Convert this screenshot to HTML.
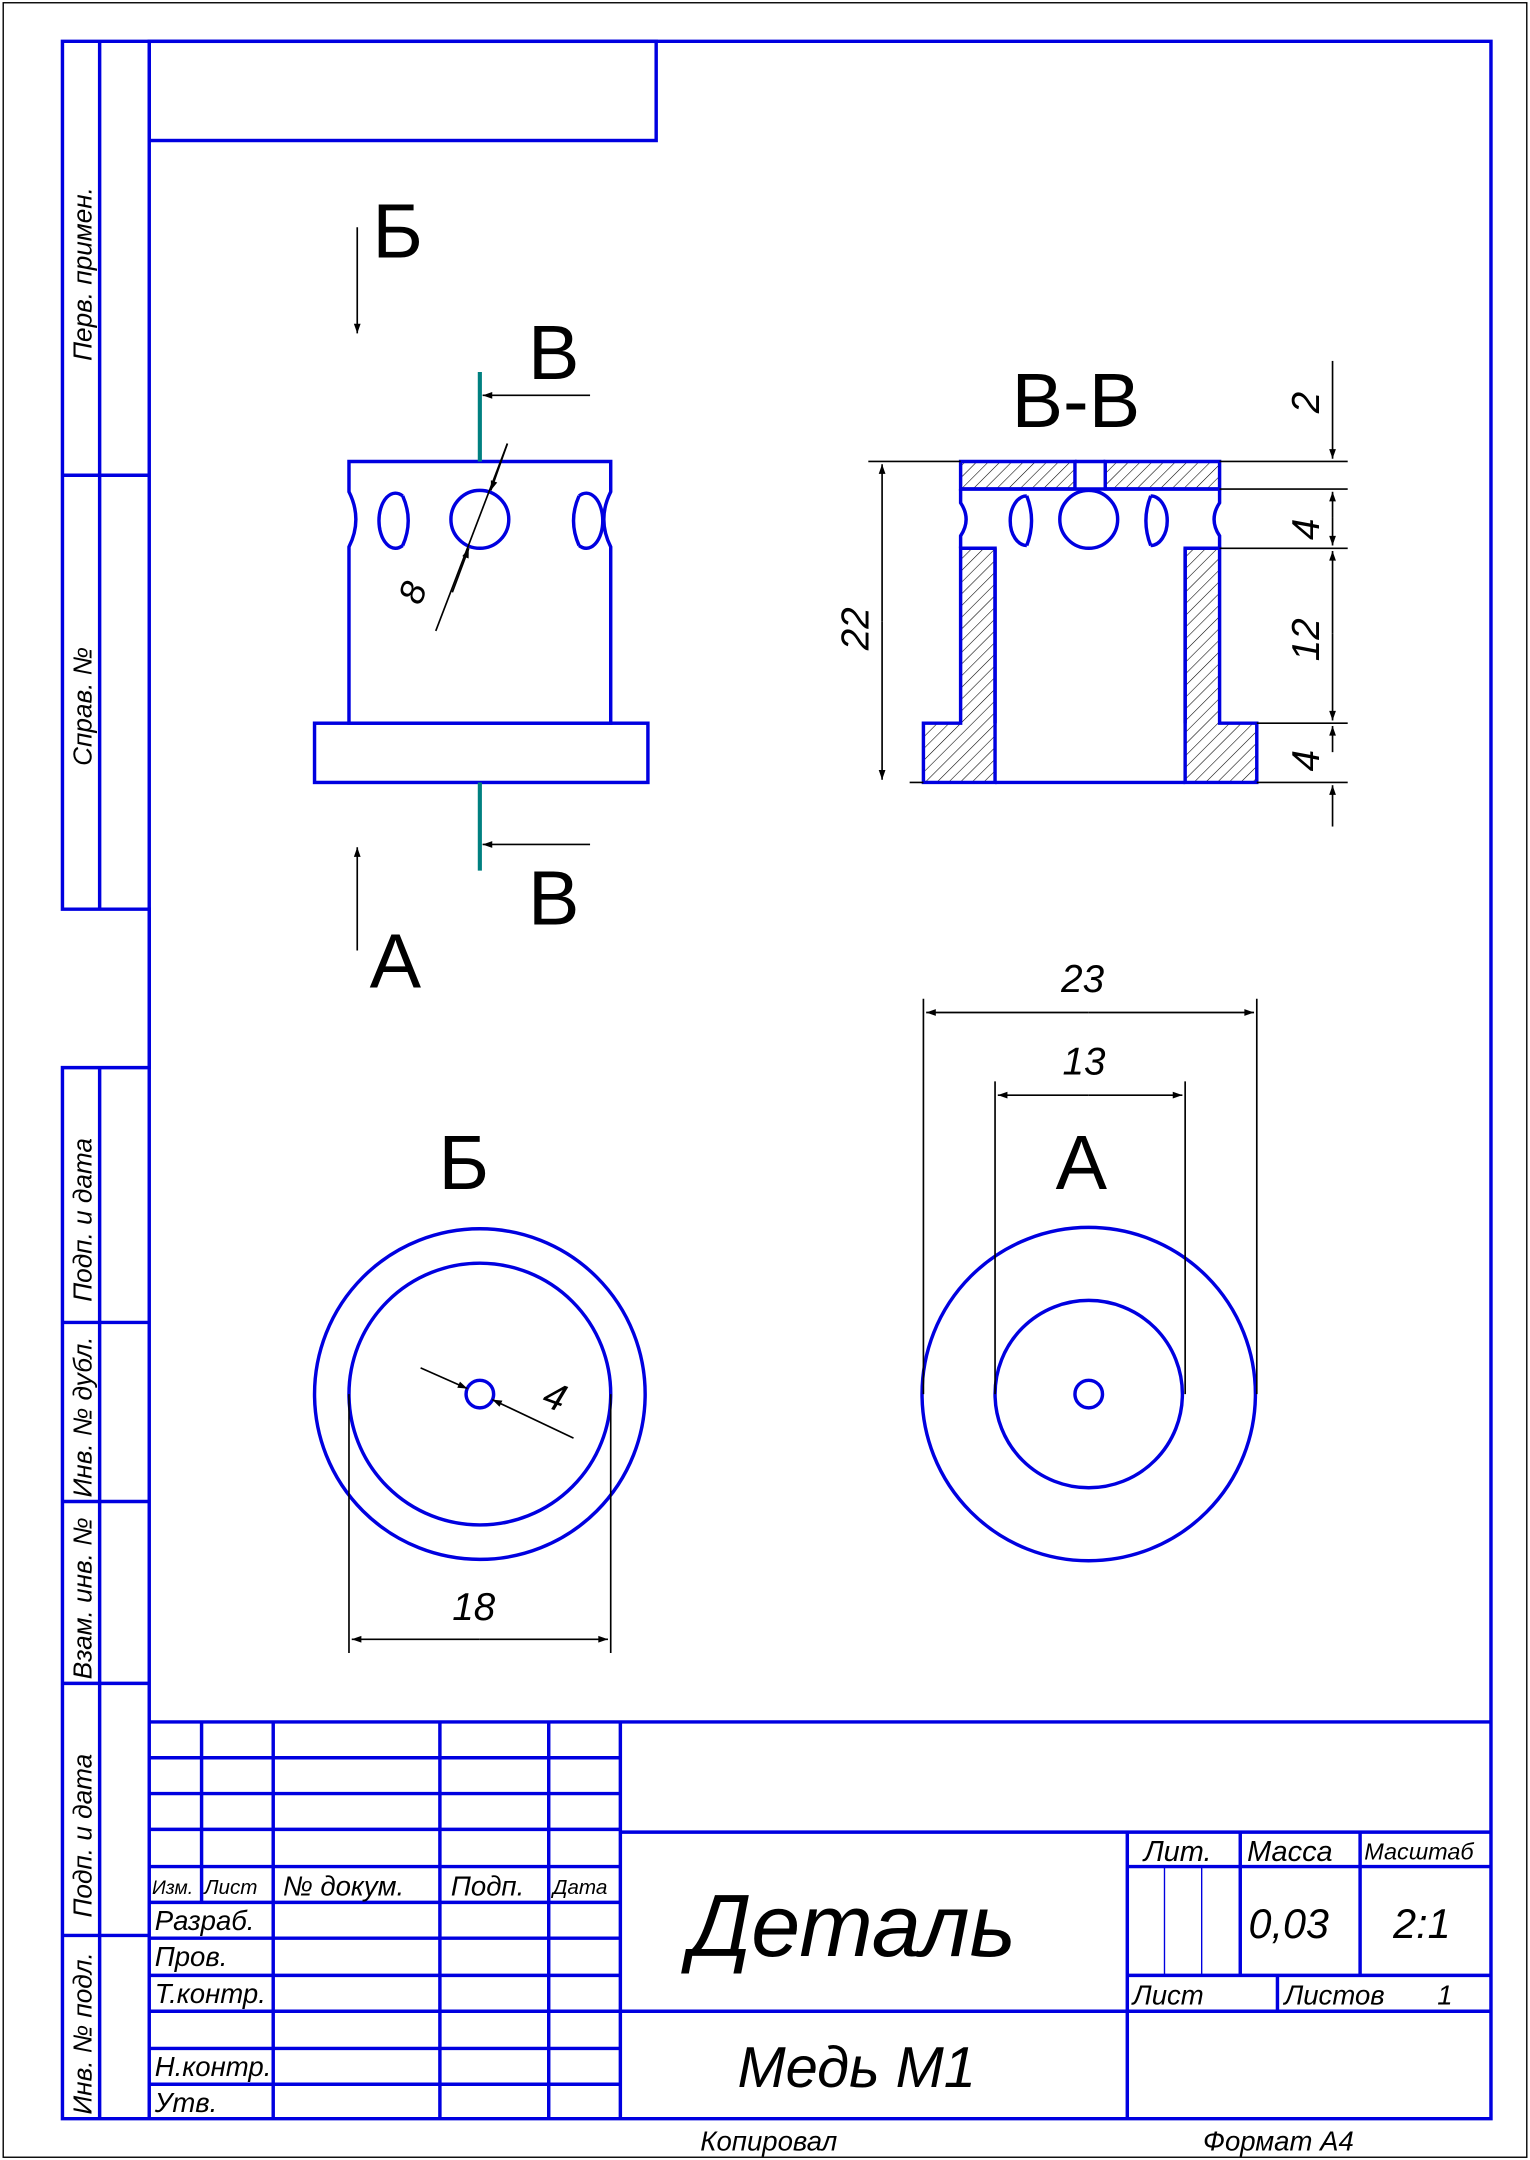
<!DOCTYPE html>
<html><head><meta charset="utf-8"><style>
html,body{margin:0;padding:0;background:#fff}
svg{display:block}
text{font-family:"Liberation Sans",sans-serif;fill:#000}
.i{font-style:italic}
</style></head><body>
<svg width="1530" height="2160" viewBox="0 0 1110 1568" xmlns="http://www.w3.org/2000/svg">
<defs>
<pattern id="h" width="6" height="6" patternUnits="userSpaceOnUse" patternTransform="rotate(45)">
<line x1="0" y1="0" x2="0" y2="6" stroke="#000" stroke-width="0.8"/></pattern>
<marker id="a" viewBox="0 0 10 10" refX="10" refY="5" markerWidth="16" markerHeight="7" markerUnits="userSpaceOnUse" orient="auto-start-reverse"><path d="M0,1.5 L10,5 L0,8.5z" fill="#000"/></marker>
</defs>
<rect x="2" y="2" width="1106" height="1564" fill="none" stroke="#000" stroke-width="1"/>
<g fill="none" stroke="#0000e0" stroke-width="2.5">
<path d="M45 30H1082V1538H45V775H108V660H45Z"/>
<line x1="108" y1="30" x2="108" y2="1538"/>
<rect x="108" y="30" width="368" height="72"/>
<path d="M45 345H108M45 960H108M45 1090H108M45 1222H108M45 1405H108M72 30V660M72 775V1538"/>
<path d="M108 1250H1082M108 1276H450M108 1302H450M108 1328H450M108 1355H450M108 1381H450M108 1407H450M108 1434H450M108 1460H450M108 1487H450M108 1513H450"/>
<path d="M146 1250V1381M198 1250V1538M319 1250V1538M398 1250V1538M450 1250V1538"/>
<path d="M450 1330H1082M450 1460H1082M818 1330V1538M900 1330V1434M987 1330V1434M818 1355H1082M818 1434H1082M927 1434V1460"/>
<path d="M845 1355V1434M872 1355V1434" stroke-width="1"/>
</g>
<g class="i" font-size="19">
<text transform="translate(66,262) rotate(-90)">Перв. примен.</text>
<text transform="translate(66,556) rotate(-90)">Справ. №</text>
<text transform="translate(66,945) rotate(-90)">Подп. и дата</text>
<text transform="translate(66,1087) rotate(-90)">Инв. № дубл.</text>
<text transform="translate(66,1219) rotate(-90)">Взам. инв. №</text>
<text transform="translate(66,1392) rotate(-90)">Подп. и дата</text>
<text transform="translate(66,1535) rotate(-90)">Инв. № подл.</text>
</g>
<g class="i" font-size="18">
<text x="110" y="1375" font-size="14">Изм.</text><text x="148" y="1375" font-size="15">Лист</text>
<text x="205" y="1376" font-size="20">№ докум.</text><text x="327" y="1376" font-size="20">Подп.</text><text x="401" y="1375" font-size="15">Дата</text>
<text x="112" y="1401" font-size="20">Разраб.</text><text x="112" y="1427" font-size="20">Пров.</text>
<text x="112" y="1454" font-size="20">Т.контр.</text><text x="112" y="1507" font-size="20">Н.контр.</text>
<text x="112" y="1533" font-size="20">Утв.</text>
<text x="830" y="1351" font-size="21">Лит.</text><text x="905" y="1351" font-size="21">Масса</text><text x="990" y="1350" font-size="17">Масштаб</text>
<text x="906" y="1407" font-size="30">0,03</text><text x="1011" y="1407" font-size="30">2:1</text>
<text x="822" y="1455" font-size="20">Лист</text><text x="932" y="1455" font-size="20">Листов</text><text x="1043" y="1455" font-size="20">1</text>
<text x="500" y="1420" font-size="64">Деталь</text>
<text x="535" y="1515" font-size="42">Медь М1</text>
<text x="508" y="1561" font-size="20">Копировал</text><text x="873" y="1561" font-size="20">Формат  А4</text>
</g>
<g fill="none" stroke="#0000e0" stroke-width="2.5">
<path d="M253 335H443V357Q433 377 443 397V525H253V397Q263 377 253 357Z"/>
<rect x="228" y="525" width="242" height="43"/>
<circle cx="348" cy="377" r="21"/>
<path d="M292 360A12 20 0 1 0 292 396M292 360Q300 378 292 396"/>
<path d="M412 360A12 20 0 1 1 412 396M412 360Q404 378 412 396" transform="translate(8,0)"/>
</g>
<path d="M348 270V335M348 568V632" stroke="#008080" stroke-width="3"/>
<g stroke="#000" stroke-width="1.2" fill="none">
<line x1="428" y1="287" x2="350" y2="287" marker-end="url(#a)"/>
<line x1="428" y1="613" x2="350" y2="613" marker-end="url(#a)"/>
<line x1="259" y1="165" x2="259" y2="242" marker-end="url(#a)"/>
<line x1="259" y1="690" x2="259" y2="615" marker-end="url(#a)"/>
<line x1="368" y1="322" x2="316" y2="458"/>
<line x1="368" y1="322" x2="356" y2="356" marker-end="url(#a)"/>
<line x1="328" y1="430" x2="340" y2="398" marker-end="url(#a)"/>
</g>
<g font-size="56"><text x="270" y="187">Б</text><text x="383" y="275">В</text><text x="383" y="671">В</text><text x="268" y="717">А</text>
<text x="734" y="310">В-В</text><text x="318" y="863">Б</text><text x="766" y="863">А</text></g>
<text class="i" font-size="26" transform="translate(305,440) rotate(-70)">8</text>
<g stroke="#0000e0" stroke-width="2.5" fill="url(#h)">
<path d="M697 335H780V355H697ZM802 335H885V355H802Z"/>
<path d="M697 398H722V568H670V525H697Z"/>
<path d="M885 398H860V568H912V525H885Z"/>
</g>
<g fill="none" stroke="#0000e0" stroke-width="2.5">
<path d="M780 335H802M722 568H860M697 355V365Q705 377 697 389V398M885 355V365Q877 377 885 389V398M722 398V525M860 398V525"/>
<circle cx="790" cy="377" r="21"/>
<path d="M745 360A12 18 0 1 0 745 396M745 360Q752 378 745 396"/>
<path d="M835 360A12 18 0 1 1 835 396M835 360Q828 378 835 396"/>
<path d="M697 355H885"/>
</g>
<g stroke="#000" stroke-width="1.2" fill="none">
<path d="M630 335H697M660 568H670M885 335H978M885 355H978M885 398H978M912 525H978M912 568H978"/>
<line x1="640" y1="451" x2="640" y2="337" marker-end="url(#a)"/><line x1="640" y1="451" x2="640" y2="566" marker-end="url(#a)"/>
<line x1="967" y1="262" x2="967" y2="333" marker-end="url(#a)"/>
<line x1="967" y1="376" x2="967" y2="396" marker-end="url(#a)"/><line x1="967" y1="376" x2="967" y2="357" marker-end="url(#a)"/>
<line x1="967" y1="460" x2="967" y2="400" marker-end="url(#a)"/><line x1="967" y1="460" x2="967" y2="523" marker-end="url(#a)"/>
<line x1="967" y1="546" x2="967" y2="527" marker-end="url(#a)"/>
<line x1="967" y1="600" x2="967" y2="570" marker-end="url(#a)"/>
</g>
<g class="i" font-size="28">
<text transform="translate(630,472) rotate(-90)">22</text>
<text transform="translate(957,300) rotate(-90)">2</text>
<text transform="translate(957,392) rotate(-90)">4</text>
<text transform="translate(957,480) rotate(-90)">12</text>
<text transform="translate(957,560) rotate(-90)">4</text>
<text x="770" y="720">23</text><text x="771" y="780">13</text><text x="328" y="1176">18</text>
<text transform="translate(392,1020) rotate(20)">4</text>
</g>
<g fill="none" stroke="#0000e0" stroke-width="2.5">
<circle cx="348" cy="1012" r="120"/><circle cx="348" cy="1012" r="95"/><circle cx="348" cy="1012" r="10"/>
<circle cx="790" cy="1012" r="121"/><circle cx="790" cy="1012" r="68"/><circle cx="790" cy="1012" r="10"/>
</g>
<g stroke="#000" stroke-width="1.2" fill="none">
<path d="M253 1012V1200M443 1012V1200M670 1012V725M912 1012V725M722 1012V785M860 1012V785"/>
<line x1="348" y1="1190" x2="255" y2="1190" marker-end="url(#a)"/><line x1="348" y1="1190" x2="441" y2="1190" marker-end="url(#a)"/>
<line x1="790" y1="735" x2="672" y2="735" marker-end="url(#a)"/><line x1="790" y1="735" x2="910" y2="735" marker-end="url(#a)"/>
<line x1="790" y1="795" x2="724" y2="795" marker-end="url(#a)"/><line x1="790" y1="795" x2="858" y2="795" marker-end="url(#a)"/>
<line x1="305" y1="993" x2="339" y2="1008" marker-end="url(#a)"/>
<line x1="416" y1="1044" x2="357" y2="1016" marker-end="url(#a)"/>
</g>
</svg>
</body></html>
